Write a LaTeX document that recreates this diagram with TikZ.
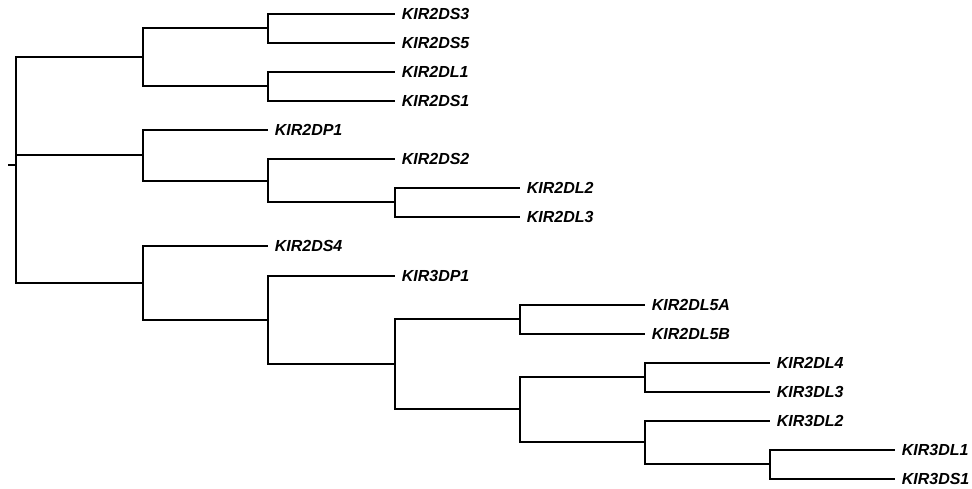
\documentclass[tikz,border=0pt]{standalone}
\usepackage{fontspec}
\setmainfont{Liberation Sans}
\begin{document}
\begin{tikzpicture}[x=1pt,y=-1pt,line width=1.6pt,
  lbl/.style={anchor=west,inner xsep=6pt,inner ysep=0pt,text height=11.4pt,text depth=0pt,
    font=\fontsize{16}{19}\selectfont\bfseries\itshape},
  br/.style={draw,line width=1.6pt}]
\useasboundingbox (0,0) rectangle (972,489);
% leaves
\node[lbl] (l0)  at (395,14)  {KIR2DS3};
\node[lbl] (l1)  at (395,43)  {KIR2DS5};
\node[lbl] (l2)  at (395,72)  {KIR2DL1};
\node[lbl] (l3)  at (395,101) {KIR2DS1};
\node[lbl] (l4)  at (268,130) {KIR2DP1};
\node[lbl] (l5)  at (395,159) {KIR2DS2};
\node[lbl] (l6)  at (520,188) {KIR2DL2};
\node[lbl] (l7)  at (520,217) {KIR2DL3};
\node[lbl] (l8)  at (268,246) {KIR2DS4};
\node[lbl] (l9)  at (395,276) {KIR3DP1};
\node[lbl] (l10) at (645,305) {KIR2DL5A};
\node[lbl] (l11) at (645,334) {KIR2DL5B};
\node[lbl] (l12) at (770,363) {KIR2DL4};
\node[lbl] (l13) at (770,392) {KIR3DL3};
\node[lbl] (l14) at (770,421) {KIR3DL2};
\node[lbl] (l15) at (895,450) {KIR3DL1};
\node[lbl] (l16) at (895,479) {KIR3DS1};
% internal nodes
\coordinate (B) at (268,28);
\coordinate (C) at (268,86);
\coordinate (A) at (143,57);
\coordinate (F) at (395,202);
\coordinate (E) at (268,181);
\coordinate (D) at (143,155);
\coordinate (J) at (520,319);
\coordinate (L) at (645,377);
\coordinate (N) at (770,464);
\coordinate (M) at (645,442);
\coordinate (K) at (520,409);
\coordinate (I) at (395,364);
\coordinate (H) at (268,320);
\coordinate (G) at (143,283);
\coordinate (R) at (16,165);
\coordinate (R0) at (8,165);
% branches
\draw[br] (R0) -- (R);
\draw[br] (R) |- (A);
\draw[br] (R) |- (G);
\draw[br] (R) |- (D);
\draw[br] (A) |- (B);
\draw[br] (A) |- (C);
\draw[br] (B) |- (l0.west);
\draw[br] (B) |- (l1.west);
\draw[br] (C) |- (l2.west);
\draw[br] (C) |- (l3.west);
\draw[br] (D) |- (l4.west);
\draw[br] (D) |- (E);
\draw[br] (E) |- (l5.west);
\draw[br] (E) |- (F);
\draw[br] (F) |- (l6.west);
\draw[br] (F) |- (l7.west);
\draw[br] (G) |- (l8.west);
\draw[br] (G) |- (H);
\draw[br] (H) |- (l9.west);
\draw[br] (H) |- (I);
\draw[br] (I) |- (J);
\draw[br] (I) |- (K);
\draw[br] (J) |- (l10.west);
\draw[br] (J) |- (l11.west);
\draw[br] (K) |- (L);
\draw[br] (K) |- (M);
\draw[br] (L) |- (l12.west);
\draw[br] (L) |- (l13.west);
\draw[br] (M) |- (l14.west);
\draw[br] (M) |- (N);
\draw[br] (N) |- (l15.west);
\draw[br] (N) |- (l16.west);
\end{tikzpicture}
\end{document}
